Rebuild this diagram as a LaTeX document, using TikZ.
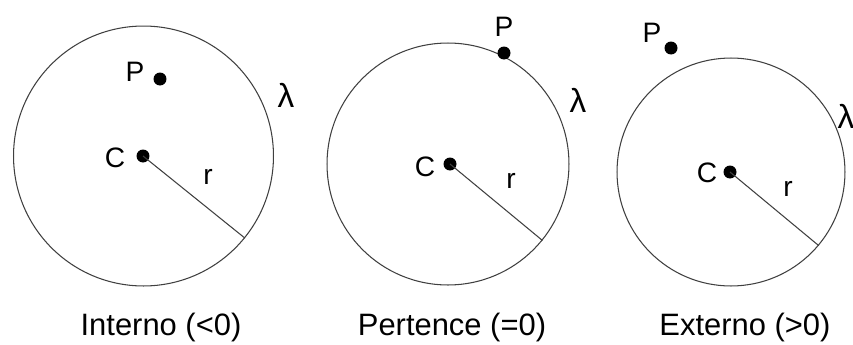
\documentclass[tikz,border=0pt]{standalone}
\usepackage{fontspec}
\setmainfont{Liberation Sans}
\usetikzlibrary{positioning}

\begin{document}
\begin{tikzpicture}[
  x=0.02cm, y=-0.02cm,
  orbit/.style={draw=black!75, line width=0.6pt, circle, inner sep=0pt},
  dot/.style={circle, fill=black, inner sep=0pt, minimum size=0.26cm},
  lbl/.style={font=\fontsize{16}{18}\selectfont, inner sep=0pt},
  greek/.style={font=\fontsize{19}{21}\selectfont, inner sep=0pt},
  caption/.style={font=\fontsize{17.6}{21}\selectfont, inner sep=0pt},
  rad/.style={draw=black!75, line width=0.6pt},
]
\useasboundingbox (0,0) rectangle (853,345);
\clip (0,0) rectangle (853,345);

% Interno
\node[orbit, minimum size=5.2cm] (circ1) at (143.5,156) {};
\node[dot] (C1) at (143,156) {};
\node[dot] (P1) at (160,79) {};
\node[lbl] (labC1) at (115,158) {C};
\node[lbl] (labP1) at (135,72) {P};
\node[greek] (lam1) at (286,95) {λ};
\node[lbl] (r1) at (208,177) {r};
\draw[rad] (C1.center) -- (circ1.-39);
\node[caption] (txt1) at (161,327) {Interno (<0)};

% Pertence
\node[orbit, minimum size=4.84cm] (circ2) at (448,164) {};
\node[dot] (C2) at (450,164) {};
\node[dot] (P2) at (504,53) {};
\node[lbl] (labC2) at (425,167) {C};
\node[lbl] (labP2) at (504,27) {P};
\node[greek] (lam2) at (578,100) {λ};
\node[lbl] (r2) at (511,181) {r};
\draw[rad] (C2.center) -- (circ2.-39);
\node[caption] (txt2) at (452,327) {Pertence (=0)};

% Externo
\node[orbit, minimum size=4.56cm] (circ3) at (731,172) {};
\node[dot] (C3) at (730,172) {};
\node[dot] (P3) at (671,48) {};
\node[lbl] (labC3) at (707,173) {C};
\node[lbl] (labP3) at (652,33) {P};
\node[greek] (lam3) at (846,116) {λ};
\node[lbl] (r3) at (788,189) {r};
\draw[rad] (C3.center) -- (circ3.-40);
\node[caption] (txt3) at (745,327) {Externo (>0)};

\end{tikzpicture}
\end{document}
